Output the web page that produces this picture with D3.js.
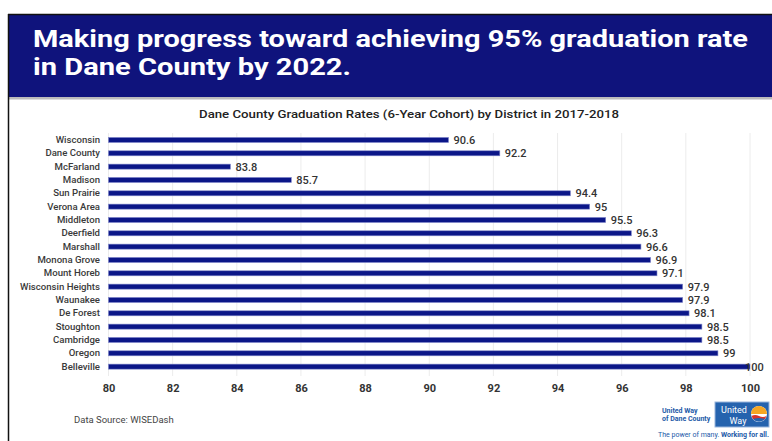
<!DOCTYPE html>
<html>
<head>
<meta charset="utf-8">
<script src="https://cdn.jsdelivr.net/npm/d3@7"></script>
<style>
  body { margin: 0; background: #fff; }
  svg { display: block; font-family: Roboto, "Open Sans", sans-serif; }
</style>
</head>
<body>
<svg width="772" height="441"></svg>
<script>
// data
var districts = ['Wisconsin', 'Dane County', 'McFarland', 'Madison', 'Sun Prairie', 'Verona Area',
  'Middleton', 'Deerfield', 'Marshall', 'Monona Grove', 'Mount Horeb', 'Wisconsin Heights',
  'Waunakee', 'De Forest', 'Stoughton', 'Cambridge', 'Oregon', 'Belleville'];
var rates = [90.6, 92.2, 83.8, 85.7, 94.4, 95, 95.5, 96.3, 96.6, 96.9, 97.1, 97.9, 97.9, 98.1, 98.5, 98.5, 99, 100];
var xTicks = [80, 82, 84, 86, 88, 90, 92, 94, 96, 98, 100];

var svg = d3.select('svg');

// banner
svg.append('rect').attr('x', 8).attr('y', 97).attr('width', 764).attr('height', 2.5).attr('fill', '#bbb');
svg.append('rect').attr('x', 8).attr('y', 14).attr('width', 764).attr('height', 83).attr('fill', '#0f137c');
svg.append('line').attr('x1', 8).attr('y1', 14.5).attr('x2', 772).attr('y2', 14.5).attr('stroke', '#111').attr('stroke-width', 1.5);
svg.append('line').attr('x1', 8.5).attr('y1', 14).attr('x2', 8.5).attr('y2', 441).attr('stroke', '#111').attr('stroke-width', 1.5);

svg.append('text').attr('x', 33).attr('y', 47).attr('fill', '#fff')
  .attr('font-size', 23).attr('font-weight', 'bold')
  .attr('textLength', 715).attr('lengthAdjust', 'spacingAndGlyphs')
  .text('Making progress toward achieving 95% graduation rate');
svg.append('text').attr('x', 33).attr('y', 74.5).attr('fill', '#fff')
  .attr('font-size', 23).attr('font-weight', 'bold')
  .attr('textLength', 318).attr('lengthAdjust', 'spacingAndGlyphs')
  .text('in Dane County by 2022.');

// chart title
svg.append('text').attr('x', 409).attr('y', 118).attr('text-anchor', 'middle')
  .attr('fill', '#222').attr('font-size', 10.5).attr('font-weight', 500)
  .attr('textLength', 420).attr('lengthAdjust', 'spacingAndGlyphs')
  .text('Dane County Graduation Rates (6-Year Cohort) by District in 2017-2018');

var x = d3.scaleLinear().domain([80, 100]).range([108.5, 750]);
var y = d3.scaleBand().domain(districts).range([133.3, 373.3]);

// gridlines
svg.append('g').selectAll('line').data(xTicks).join('line')
  .attr('x1', function(d) { return x(d); }).attr('x2', function(d) { return x(d); })
  .attr('y1', 133).attr('y2', 376)
  .attr('stroke', '#ececec').attr('stroke-width', 1);

// x axis labels
var xAxis = d3.axisBottom(x).tickValues(xTicks).tickSize(0).tickPadding(0);
var gx = svg.append('g').attr('transform', 'translate(0,384)').call(xAxis);
gx.select('.domain').remove();
gx.selectAll('text').attr('fill', '#333').attr('font-size', 11).attr('font-weight', 'bold')
  .attr('font-family', 'Roboto, sans-serif');

// y axis labels
var yAxis = d3.axisLeft(y).tickSize(0).tickPadding(0);
var gy = svg.append('g').attr('transform', 'translate(100,0)').call(yAxis);
gy.select('.domain').remove();
gy.selectAll('text').attr('fill', '#3a3a3a').attr('font-size', 9.6).attr('font-weight', 500)
  .attr('font-family', 'Roboto, sans-serif');

// bars
svg.append('g').selectAll('rect').data(rates).join('rect')
  .attr('x', x(80))
  .attr('y', function(d, i) { return y(districts[i]) + y.bandwidth() / 2 - 2.5; })
  .attr('width', function(d) { return x(d) - x(80); })
  .attr('height', 5)
  .attr('fill', '#0b1688')
  .attr('stroke', '#7d84c8').attr('stroke-width', 0.6);

// value labels
svg.append('g').selectAll('text').data(rates).join('text')
  .attr('x', function(d) { return x(d) + (d === 100 ? -5 : 5); })
  .attr('y', function(d, i) { return y(districts[i]) + y.bandwidth() / 2 + 4; })
  .attr('fill', '#333').attr('font-size', 11).attr('font-weight', 500)
  .text(function(d) { return d; });

// source
svg.append('text').attr('x', 74).attr('y', 423).attr('fill', '#444').attr('font-size', 9.5)
  .text('Data Source: WISEDash');

// logo
var logo = svg.append('g');
logo.append('text').attr('x', 662).attr('y', 413)
  .attr('fill', '#1d5aa8').attr('font-size', 7).attr('font-weight', 'bold').text('United Way');
logo.append('text').attr('x', 662).attr('y', 421)
  .attr('fill', '#1d5aa8').attr('font-size', 7).attr('font-weight', 'bold').text('of Dane County');
logo.append('rect').attr('x', 715).attr('y', 402).attr('width', 54).attr('height', 25)
  .attr('fill', '#2563ae').attr('stroke', '#9ab6dc').attr('stroke-width', 1);
logo.append('text').attr('x', 734).attr('y', 413).attr('text-anchor', 'middle')
  .attr('fill', '#fff').attr('font-size', 9).text('United');
logo.append('text').attr('x', 738).attr('y', 423.5).attr('text-anchor', 'middle')
  .attr('fill', '#fff').attr('font-size', 9).text('Way');
logo.append('circle').attr('cx', 759).attr('cy', 414).attr('r', 8).attr('fill', '#fff');
logo.append('path').attr('d', 'M751,414 A8,8 0 0 1 767,414 Z').attr('fill', '#f5a623');
logo.append('path').attr('d', 'M751.5,416 Q755,414 759,416 T766.5,416 L765,419 Q759,423 753,419 Z').attr('fill', '#d6332c');
logo.append('path').attr('d', 'M753,419 Q759,417 765,419 A8,8 0 0 1 753,419 Z').attr('fill', '#2563ae');
logo.append('text').attr('x', 658).attr('y', 437).attr('fill', '#1d5aa8').attr('font-size', 7)
  .attr('textLength', 111).attr('lengthAdjust', 'spacingAndGlyphs')
  .html('The power of many. <tspan font-weight="bold">Working for all.</tspan>');
</script>
</body>
</html>
